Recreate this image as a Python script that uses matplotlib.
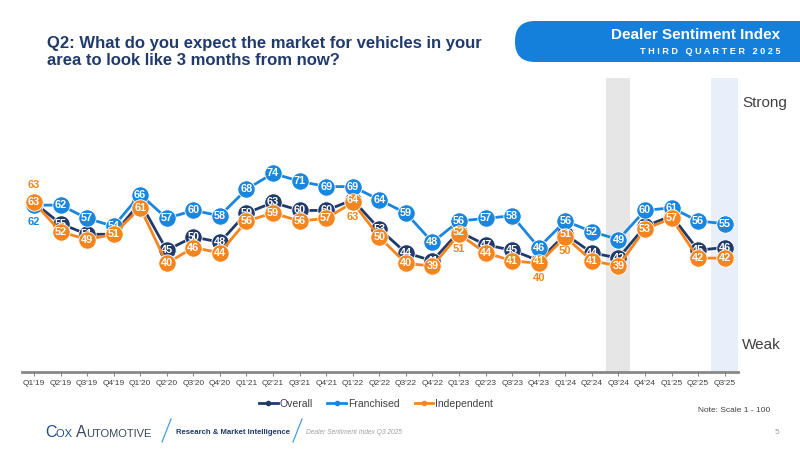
import matplotlib
matplotlib.use("Agg")
import matplotlib.pyplot as plt
from matplotlib.patches import FancyBboxPatch

quarters = ["Q1'19", "Q2'19", "Q3'19", "Q4'19", "Q1'20", "Q2'20", "Q3'20", "Q4'20",
            "Q1'21", "Q2'21", "Q3'21", "Q4'21", "Q1'22", "Q2'22", "Q3'22", "Q4'22",
            "Q1'23", "Q2'23", "Q3'23", "Q4'23", "Q1'24", "Q2'24", "Q3'24", "Q4'24",
            "Q1'25", "Q2'25", "Q3'25"]
overall = [63, 55, 51, 51, 63, 45, 50, 48, 59, 63, 60, 60, 64, 53, 44, 41,
           52, 47, 45, 41, 51, 44, 42, 54, 58, 45, 46]
franchised = [62, 62, 57, 54, 66, 57, 60, 58, 68, 74, 71, 69, 69, 64, 59, 48,
              56, 57, 58, 46, 56, 52, 49, 60, 61, 56, 55]
independent = [63, 52, 49, 51, 61, 40, 46, 44, 56, 59, 56, 57, 63, 50, 40, 39,
               51, 44, 41, 40, 50, 41, 39, 53, 57, 42, 42]

NAVY = "#1f3a6b"
BLUE = "#1a86dd"
ORANGE = "#f5861f"

plt.rcParams["font.family"] = ["Liberation Sans", "DejaVu Sans"]

fig = plt.figure(figsize=(8, 4.5), dpi=100)
ax = fig.add_axes([22 / 800, 1 - 372 / 450, (738 - 22) / 800, (372 - 78) / 450])
x = list(range(len(quarters)))

ax.axvspan(21.55, 22.45, color="#e6e6e6", zorder=0, lw=0)
ax.axvspan(25.5, 26.5, color="#e8eefa", zorder=0, lw=0)

# labels shown outside the marker (series, index) -> vertical offset in data units
outside = {("independent", 0): 6.5, ("franchised", 0): -6.5,
           ("independent", 12): -5.5, ("independent", 16): -5.5,
           ("independent", 19): -5.5, ("independent", 20): -5.5}
raised = {0, 12, 16, 19, 20}

series = [("overall", overall, NAVY, 3), ("franchised", franchised, BLUE, 4),
          ("independent", independent, ORANGE, 5)]
for name, vals, col, z in series:
    ax.plot(x, vals, color=col, lw=2, marker="o", ms=12.5, mec="white", mew=0.6, zorder=z)
    for i, v in enumerate(vals):
        if (name, i) in outside:
            ax.text(i, v + outside[(name, i)], str(v), color=col, fontsize=8,
                    fontweight="bold", ha="center", va="center", zorder=z + 0.5)
        else:
            zz = 10 if (name == "overall" and i in raised) else z + 0.5
            ax.text(i, v, str(v), color="white", fontsize=7.8, fontweight="bold",
                    ha="center", va="center", zorder=zz)

for s in ["top", "right", "left"]:
    ax.spines[s].set_visible(False)
ax.spines["bottom"].set_position(("data", -1))
ax.spines["bottom"].set_color("#888888")
ax.spines["bottom"].set_linewidth(2)
ax.set_xlim(-0.45, 26.5)
ax.set_ylim(-1, 110)
ax.set_xticks(x)
ax.set_xticklabels(quarters)
ax.tick_params(axis="x", length=3, color="#888888", pad=3, labelsize=6, labelcolor="#404040")
ax.set_yticks([])

handles = [plt.Line2D([], [], color=c, lw=2, marker="o", ms=3) for c in (NAVY, BLUE, ORANGE)]
fig.legend(handles, ["Overall", "Franchised", "Independent"], loc="center",
           bbox_to_anchor=(376 / 800, 1 - 404 / 450), ncol=3, frameon=False,
           fontsize=7.5, handlelength=1.8, handletextpad=0.2, columnspacing=1.4,
           labelcolor="#404040")

# overlay in pixel coordinates for titles, banner and footer
ov = fig.add_axes([0, 0, 1, 1], zorder=20)
ov.set_xlim(0, 800)
ov.set_ylim(450, 0)
ov.axis("off")
ov.patch.set_alpha(0)

ov.text(47, 52, "Q2: What do you expect the market for vehicles in your\narea to look like 3 months from now?",
        fontsize=12, fontweight="bold", color=NAVY, va="center", ha="left", linespacing=1.2)
ov.add_patch(FancyBboxPatch((515, 21), 340, 41, boxstyle="round,pad=0,rounding_size=20",
                            fc="#1480db", ec="none"))
ov.text(780, 35, "Dealer Sentiment Index", fontsize=11, fontweight="bold", color="white",
        ha="right", va="center")
ov.text(780, 52, "T H I R D   Q U A R T E R   2 0 2 5", fontsize=6.6, fontweight="bold",
        color="white", ha="right", va="center")

ov.text(742, 103, "Strong", fontsize=11, color="#404040", ha="left", va="center")
ov.text(742, 345, "Weak", fontsize=11, color="#404040", ha="left", va="center")
ov.text(770, 410, "Note: Scale 1 - 100", fontsize=6, color="#404040", ha="right", va="center")

# Cox Automotive wordmark in small caps
fig.canvas.draw()
renderer = fig.canvas.get_renderer()
xpos = 45
for piece, size, col in [("C", 11.5, "#1f4f80"), ("OX ", 8, "#1f4f80"),
                         ("A", 11.5, "#3b4a5c"), ("UTOMOTIVE", 8, "#3b4a5c")]:
    t = ov.text(xpos, 437, piece, fontsize=size, color=col, ha="left", va="baseline")
    xpos += t.get_window_extent(renderer).width
ov.plot([162, 171], [442, 419], color="#4a9be0", lw=0.9)
ov.text(176, 432, "Research & Market Intelligence", fontsize=5.6, fontweight="bold",
        color=NAVY, ha="left", va="center")
ov.plot([293, 302], [442, 419], color="#4a9be0", lw=0.9)
ov.text(306, 432, "Dealer Sentiment Index Q3 2025", fontsize=4.8, style="italic",
        color="#a0a0a0", ha="left", va="center")
ov.text(777, 433, "5", fontsize=6, color="#a0a0a0", ha="center", va="center")

fig.savefig("out.png", dpi=100)
